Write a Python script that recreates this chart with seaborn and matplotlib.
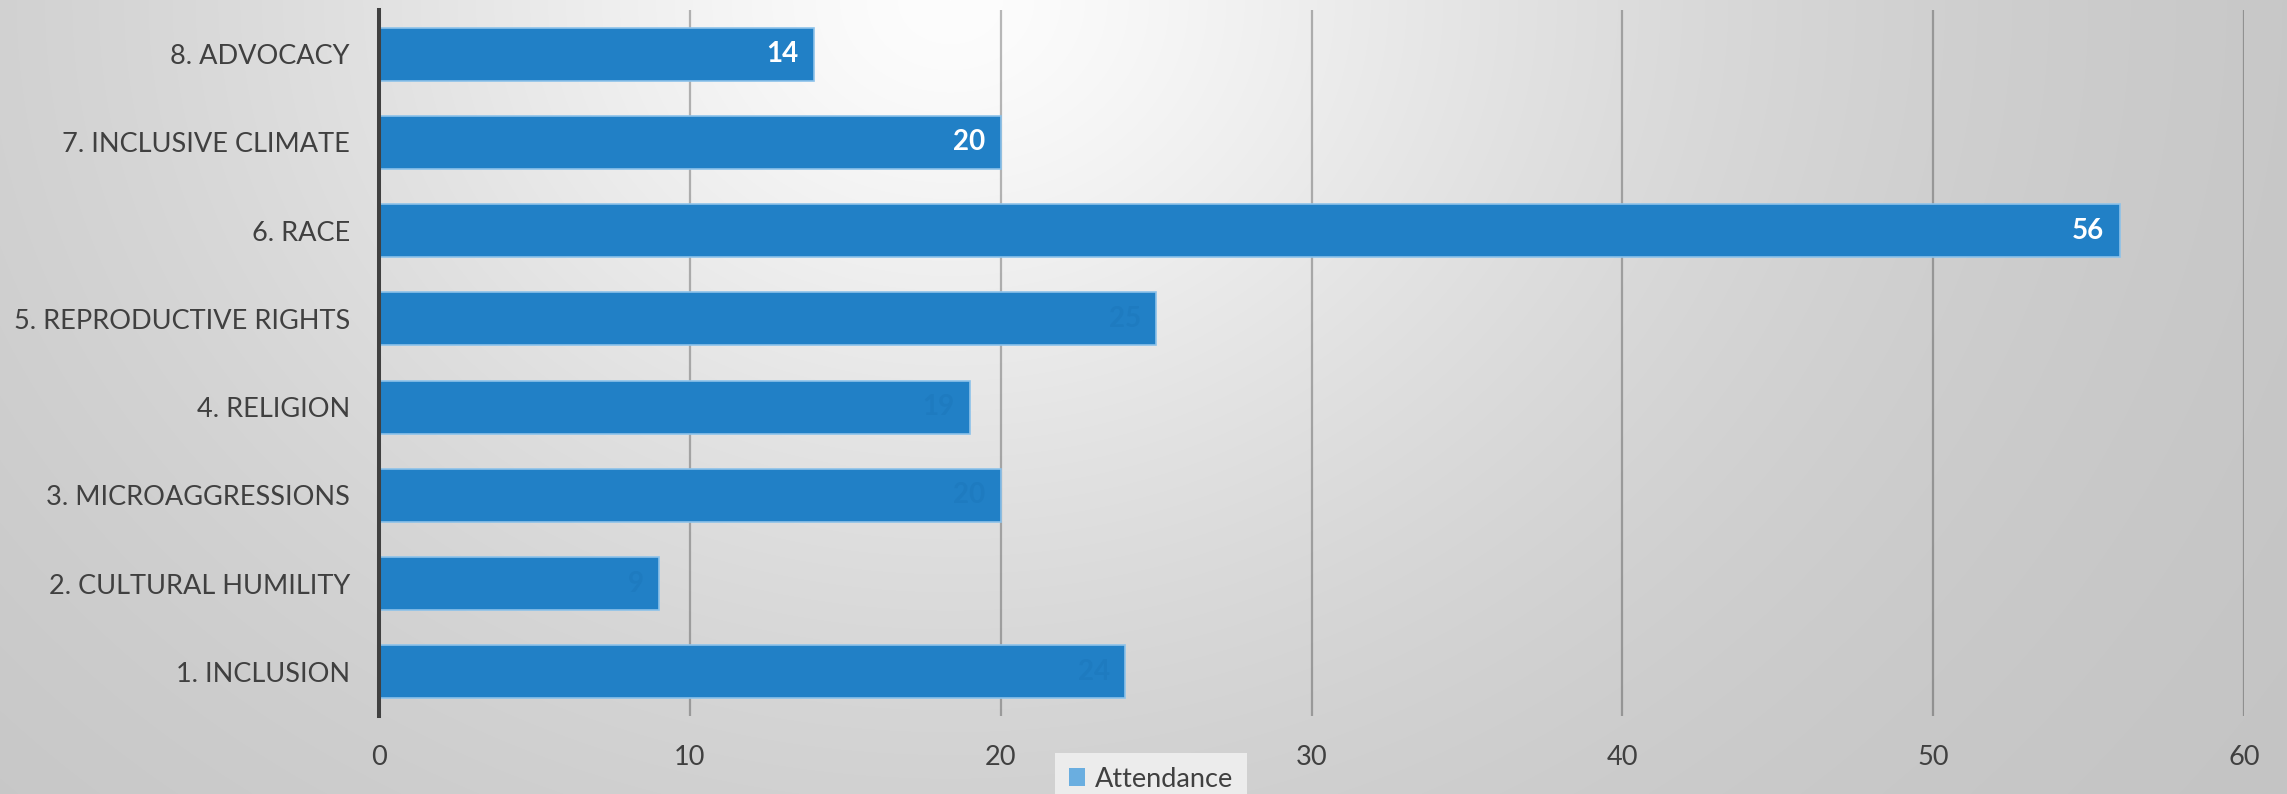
import numpy as np
import pandas as pd
import matplotlib
matplotlib.use("Agg")
import matplotlib.pyplot as plt
from matplotlib.patches import Patch
import seaborn as sns

categories = ["8. ADVOCACY", "7. INCLUSIVE CLIMATE", "6. RACE", "5. REPRODUCTIVE RIGHTS",
              "4. RELIGION", "3. MICROAGGRESSIONS", "2. CULTURAL HUMILITY", "1. INCLUSION"]
attendance = [14, 20, 56, 25, 19, 20, 9, 24]
x_ticks = [0, 10, 20, 30, 40, 50, 60]
series_name = "Attendance"

sns.set_style("white")
plt.rcParams["font.family"] = ["Lato", "DejaVu Sans"]

W, H = 2287, 794
fig = plt.figure(figsize=(W / 100, H / 100), dpi=100)

# background gradient
bg = fig.add_axes([0, 0, 1, 1], zorder=-10)
yy, xx = np.mgrid[0:H, 0:W]
dist = np.sqrt((xx - 950.0) ** 2 + (1.2 * yy) ** 2)
v = 253 - 60 * (1 - np.exp(-(dist / 800.0) ** 1.5))
v = np.clip(v, 0, 255) / 255.0
img = np.dstack([v, v, v])
bg.imshow(img, aspect="auto", extent=[0, 1, 0, 1], origin="upper")
bg.axis("off")

ax = fig.add_axes([379 / W, 1 - 716 / H, (2244 - 379) / W, (716 - 10) / H])
ax.set_facecolor("none")

df = pd.DataFrame({"Topic": categories, series_name: attendance})
bar_color = "#2180C6"
sns.barplot(data=df, y="Topic", x=series_name, order=categories, orient="h",
            color=bar_color, saturation=1, width=0.6, ax=ax,
            edgecolor="#8cc2ea", linewidth=1.2, zorder=3)

ax.set_xlim(0, 60)
ax.set_ylim(len(categories) - 0.5, -0.5)
ax.set_xticks(x_ticks)
ax.set_xticklabels([str(t) for t in x_ticks])
ax.set_xlabel("")
ax.set_ylabel("")

ax.grid(axis="x", color="#000000", alpha=0.27, linewidth=1.6, zorder=0)
ax.grid(axis="y", visible=False)
ax.set_axisbelow(True)
for s in ["top", "right", "bottom"]:
    ax.spines[s].set_visible(False)
ax.spines["left"].set_color("#404040")
ax.spines["left"].set_linewidth(2.9)
ax.spines["left"].set_zorder(5)

ax.tick_params(axis="y", length=0, pad=21, labelsize=19.5, labelcolor="#404040")
ax.tick_params(axis="x", length=0, pad=21, labelsize=19.5, labelcolor="#404040")

# bar value labels
container = ax.containers[0]
texts = ax.bar_label(container, labels=[str(a) for a in attendance], padding=-11,
                     fontsize=20, fontweight="bold")
for t, cat in zip(texts, categories):
    t.set_ha("right")
    if cat.startswith(("6", "7", "8")):
        t.set_color("white")
    else:
        t.set_color("#1e7bc0")

handle = Patch(facecolor="#6aaee0", edgecolor="none", label=series_name)
leg = ax.legend(handles=[handle], loc="upper center",
                bbox_to_anchor=(1151 / W, 1 - 753 / H), bbox_transform=fig.transFigure,
                frameon=True, fontsize=19.5, handlelength=0.6, handleheight=0.6,
                handletextpad=0.35, borderpad=0.5, borderaxespad=0, fancybox=False)
leg.get_frame().set_facecolor("#ececec")
leg.get_frame().set_edgecolor("none")
leg.get_frame().set_alpha(1)
for t in leg.get_texts():
    t.set_color("#404040")

fig.savefig("out.png", dpi=100)
